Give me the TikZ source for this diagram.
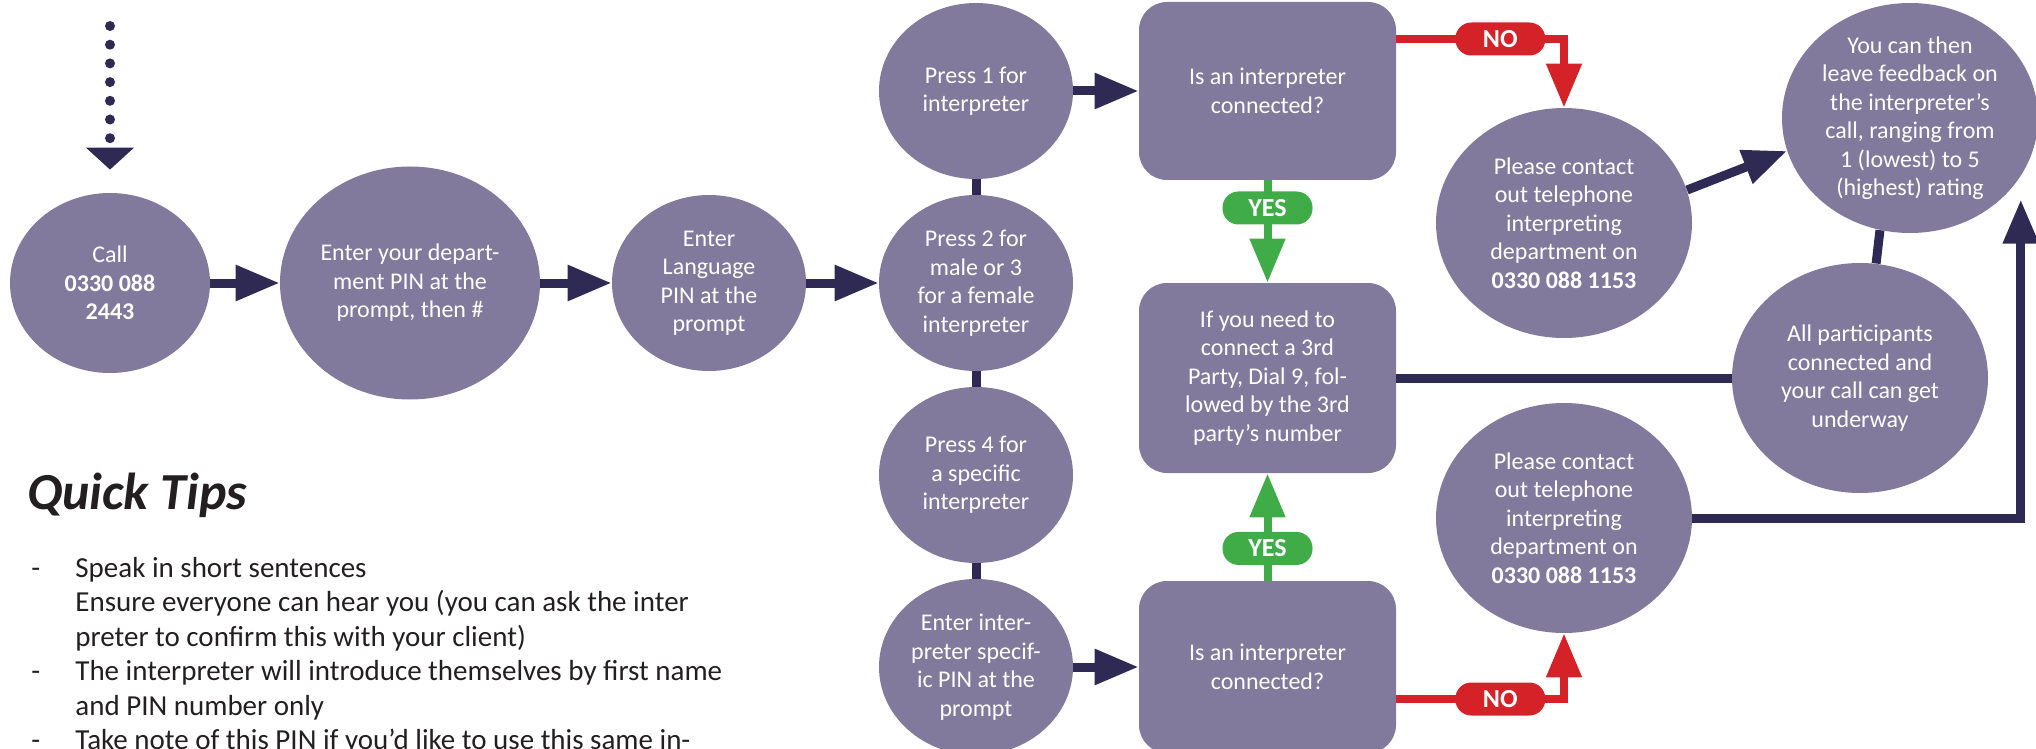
\documentclass[tikz,border=0pt]{standalone}
\usepackage{fontspec}
\setmainfont{Carlito}
\usetikzlibrary{arrows.meta,positioning,shapes.geometric}

\definecolor{bubble}{RGB}{129,122,156}
\definecolor{navy}{RGB}{46,42,84}
\definecolor{nored}{RGB}{213,33,40}
\definecolor{yesgreen}{RGB}{64,172,72}
\definecolor{tipsgray}{RGB}{35,31,32}

\begin{document}
\begin{tikzpicture}[>={Triangle[length=22pt,width=17pt]},node distance=96pt,on grid,
    every node/.style={align=center},
    blob/.style={ellipse,fill=bubble,text=white,inner sep=-12pt,
      minimum width=97pt,minimum height=88pt,font=\fontsize{12}{14.25}\selectfont},
    bigblob/.style={blob,minimum width=128pt,minimum height=115pt},
    qbox/.style={rectangle,rounded corners=14pt,fill=bubble,text=white,
      minimum width=128.5pt,font=\fontsize{12}{14.25}\selectfont},
    link/.style={navy,line width=4.5pt},
    dotline/.style={draw=navy,line width=5pt,line cap=round,dash pattern=on 0pt off 9.35pt,
      shorten >=11.5pt,-{Triangle[length=11pt,width=23.5pt]}},
    pill/.style={rectangle,rounded corners=8pt,text=white,minimum width=45pt,
      minimum height=16.5pt,inner sep=0pt,font=\fontsize{13}{13}\selectfont\bfseries},
    nopill/.style={pill,fill=nored},
    yespill/.style={pill,fill=yesgreen},
    noline/.style={draw=nored,line width=4pt,->},
    yesline/.style={draw=yesgreen,line width=4pt,->}]
  \useasboundingbox (0pt,0pt) rectangle (1018pt,-374.5pt);

  % first row
  \node[blob,minimum width=100pt,minimum height=90pt] (call) at (55pt,-141.5pt)
    {Call\\\textbf{0330 088}\\\textbf{2443}};
  \node[blob,minimum width=130pt,minimum height=116.5pt] (dept) [right of=call,node distance=150pt]
    {Enter your depart-\\ment PIN at the\\prompt, then \#};
  \node[blob] (lang) [right of=dept,node distance=149.5pt] {Enter\\Language\\PIN at the\\prompt};

  % column of choices
  \node[blob] (p2) [right of=lang,node distance=133.5pt] {Press 2 for\\male or 3\\for a female\\interpreter};
  \node[blob] (p1) [above of=p2] {Press 1 for\\interpreter};
  \node[blob] (p4) [below of=p2] {Press 4 for\\a specific\\interpreter};
  \node[blob] (pin) [below of=p4] {Enter inter-\\preter specif-\\ic PIN at the\\prompt};

  % questions
  \node[qbox,minimum height=89pt] (qtop) [right of=p1,node distance=145.75pt] {Is an interpreter\\connected?};
  \node[qbox,minimum height=86pt] (qbot) [right of=pin,node distance=145.75pt] {Is an interpreter\\connected?};
  \node[qbox,minimum height=95pt] (mid) [below of=qtop,node distance=143.5pt]
    {If you need to\\connect a 3rd\\Party, Dial 9, fol-\\lowed by the 3rd\\party’s number};

  % outcomes
  \node[bigblob] (pc1) [above right=77.5pt and 148.25pt of mid]
    {Please contact\\out telephone\\interpreting\\department on\\\textbf{0330 088 1153}};
  \node[bigblob] (pc2) [below right=70pt and 148.25pt of mid]
    {Please contact\\out telephone\\interpreting\\department on\\\textbf{0330 088 1153}};
  \node[bigblob] (fb) [above right=52.5pt and 173pt of pc1]
    {You can then\\leave feedback on\\the interpreter’s\\call, ranging from\\1 (lowest) to 5\\(highest) rating};
  \node[bigblob] (allp) [right of=mid,node distance=296.25pt]
    {All participants\\connected and\\your call can get\\underway};

  % tips
  \node[anchor=west,font=\fontsize{26}{30}\selectfont\bfseries\itshape,text=tipsgray] (qt) at (10pt,-247.5pt) {Quick Tips};
  \node[anchor=north west,align=left,inner sep=0pt,text=tipsgray,font=\fontsize{14.5}{17.2}\selectfont] (tips) at (15.5pt,-278.5pt)
    {\makebox[22pt][l]{-}Speak in short sentences\\
     \hspace*{22pt}Ensure everyone can hear you (you can ask the inter\\
     \hspace*{22pt}preter to confirm this with your client)\\
     \makebox[22pt][l]{-}The interpreter will introduce themselves by first name\\
     \hspace*{22pt}and PIN number only\\
     \makebox[22pt][l]{-}Take note of this PIN if you’d like to use this same in-};

  % connectors
  \coordinate[above of=call,node distance=128.5pt] (drop);
  \draw[dotline] (drop) -- (call);

  \path[link,->] (call) edge (dept)
    (dept) edge (lang)
    (lang) edge (p2)
    (p1) edge (qtop)
    (pin) edge (qbot)
    (pc1.15) edge (fb.195);
  \path[link] (p1) edge (p2)
    (p2) edge (p4)
    (p4) edge (pin)
    (mid) edge (allp)
    (fb.255) edge (allp.82);

  \coordinate (fbin) at ([xshift=10pt]fb.south east);
  \draw[link,->] (pc2.east) -| (fbin);

  \coordinate (nostart) at ([yshift=26pt]qtop.east);
  \coordinate (nostart2) at ([yshift=-16pt]qbot.east);
  \draw[noline] (nostart) -- node[nopill,pos=0.62] (no1) {NO} (nostart -| pc1.north) -- (pc1.north);
  \draw[noline] (nostart2) -- node[nopill,pos=0.62] (no2) {NO} (nostart2 -| pc2.south) -- (pc2.south);

  \draw[yesline] (qtop) -- node[yespill,pos=0.27] (yes1) {YES} (mid);
  \draw[yesline] (qbot) -- node[yespill,pos=0.3] (yes2) {YES} (mid);
\end{tikzpicture}
\end{document}
